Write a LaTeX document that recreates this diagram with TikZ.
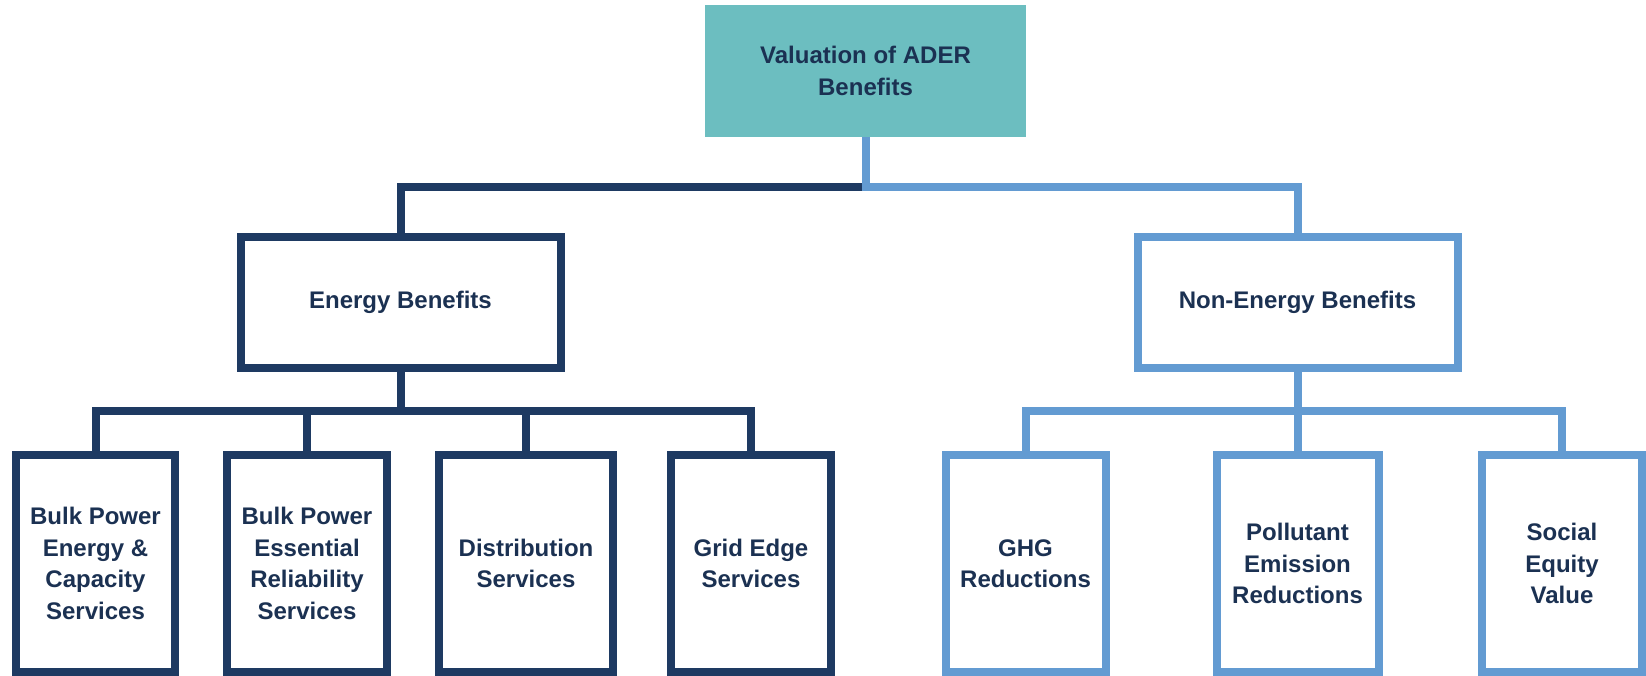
\documentclass[tikz,border=0pt]{standalone}
\usepackage{fontspec}
\setmainfont{Liberation Sans}
\definecolor{navy}{HTML}{1E3A62}
\definecolor{skyline}{HTML}{639BD2}
\definecolor{tealfill}{HTML}{6CBEC0}
\definecolor{inktext}{HTML}{1B3152}
\tikzset{
  lbl/.style={align=center, text=inktext,
    font=\bfseries\fontsize{24}{31.5}\selectfont, inner sep=0pt},
  navybox/.style={lbl, draw=navy, line width=8pt, fill=white},
  skybox/.style={lbl, draw=skyline, line width=8pt, fill=white},
  navyline/.style={draw=navy, line width=8pt, line join=miter},
  skyline/.style={draw=skyline, line width=8pt, line join=miter},
  midbox/.style={minimum width=320pt, minimum height=130pt},
  leafbox/.style={minimum height=217pt},
}
\begin{document}
\begin{tikzpicture}[x=1pt, y=-1pt]
  \useasboundingbox[fill=white] (0,0) rectangle (1646,676);

  % root
  \node[lbl, fill=tealfill, minimum width=321pt, minimum height=132pt]
    (root) at (865.5,71) {Valuation of ADER\\Benefits};

  % second level
  \node[navybox, midbox] (energy) at (400.5,302.5) {Energy Benefits};
  \node[skybox, midbox] (nonenergy) at (1297.5,302.5) {Non-Energy Benefits};

  % energy leaves
  \node[navybox, leafbox, minimum width=159pt] (e1) at (95.5,563.5)
    {Bulk Power\\Energy \&\\Capacity\\Services};
  \node[navybox, leafbox, minimum width=160pt] (e2) at (307,563.5)
    {Bulk Power\\Essential\\Reliability\\Services};
  \node[navybox, leafbox, minimum width=174pt] (e3) at (526,563.5)
    {Distribution\\Services};
  \node[navybox, leafbox, minimum width=160pt] (e4) at (751,563.5)
    {Grid Edge\\Services};

  % non-energy leaves
  \node[skybox, leafbox, minimum width=160pt] (n1) at (1025.5,563.5)
    {GHG\\Reductions};
  \node[skybox, leafbox, minimum width=162pt] (n2) at (1297.5,563.5)
    {Pollutant\\Emission\\Reductions};
  \node[skybox, leafbox, minimum width=160pt] (n3) at (1562,563.5)
    {Social\\Equity\\Value};

  % junction heights of the three bars
  \coordinate (topbar) at (865.5,187);
  \coordinate (lowbar) at (0,411);

  % root to second level
  \draw[navyline] (energy.north) |- (topbar);
  \draw[skyline] (root.south) -- (topbar) -| (nonenergy.north);

  % energy branch
  \draw[navyline] (energy.south) -- (energy.south |- lowbar);
  \draw[navyline] (e1.north) -- (e1.north |- lowbar) -- (e4.north |- lowbar) -- (e4.north);
  \draw[navyline] (e2.north) -- (e2.north |- lowbar);
  \draw[navyline] (e3.north) -- (e3.north |- lowbar);

  % non-energy branch
  \draw[skyline] (nonenergy.south) -- (nonenergy.south |- lowbar);
  \draw[skyline] (n1.north) -- (n1.north |- lowbar) -- (n3.north |- lowbar) -- (n3.north);
  \draw[skyline] (n2.north) -- (n2.north |- lowbar);
\end{tikzpicture}
\end{document}
